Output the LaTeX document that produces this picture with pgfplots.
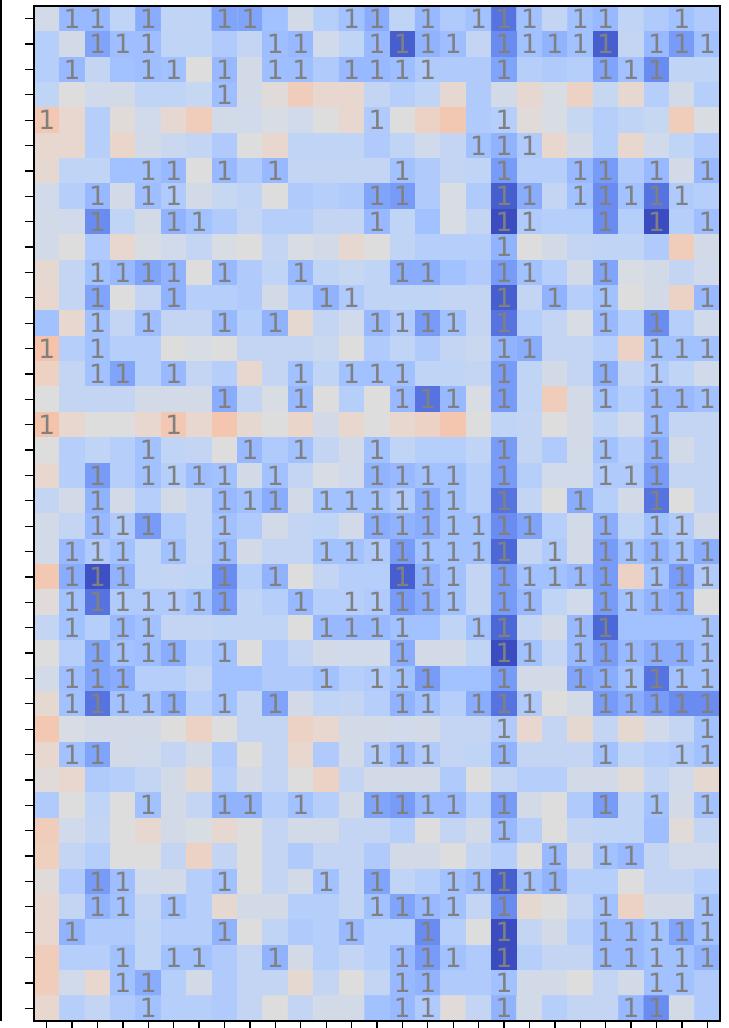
\documentclass[border=0pt]{standalone}
\usepackage{fontspec}
\setmainfont{DejaVu Sans}
\usepackage{pgfplots}
\usepackage{pgfplotstable}
\pgfplotsset{compat=1.18}

% x = column, y = row (0 at top), c = colour value, a = annotation flag
\pgfplotstableread[row sep=\\]{
x y c a\\
0 0 0.46 0\\ 1 0 0.28 1\\ 2 0 0.28 1\\ 3 0 0.40 0\\ 4 0 0.24 1\\ 5 0 0.40 0\\ 6 0 0.40 0\\ 7 0 0.215 1\\ 8 0 0.215 1\\ 9 0 0.31 0\\ 10 0 0.46 0\\ 11 0 0.37 0\\ 12 0 0.31 1\\ 13 0 0.24 1\\ 14 0 0.40 0\\ 15 0 0.28 1\\ 16 0 0.35 0\\ 17 0 0.31 1\\ 18 0 0.09 1\\ 19 0 0.31 1\\ 20 0 0.41 0\\ 21 0 0.31 1\\ 22 0 0.28 1\\ 23 0 0.40 0\\ 24 0 0.35 0\\ 25 0 0.31 1\\ 26 0 0.35 0\\
0 1 0.37 0\\ 1 1 0.46 0\\ 2 1 0.215 1\\ 3 1 0.30 1\\ 4 1 0.30 1\\ 5 1 0.40 0\\ 6 1 0.40 0\\ 7 1 0.35 0\\ 8 1 0.41 0\\ 9 1 0.30 1\\ 10 1 0.28 1\\ 11 1 0.45 0\\ 12 1 0.40 0\\ 13 1 0.28 1\\ 14 1 0.04 1\\ 15 1 0.26 1\\ 16 1 0.30 1\\ 17 1 0.41 0\\ 18 1 0.15 1\\ 19 1 0.31 1\\ 20 1 0.26 1\\ 21 1 0.31 1\\ 22 1 0.04 1\\ 23 1 0.41 0\\ 24 1 0.28 1\\ 25 1 0.19 1\\ 26 1 0.31 1\\
0 2 0.37 0\\ 1 2 0.28 1\\ 2 2 0.41 0\\ 3 2 0.31 0\\ 4 2 0.30 1\\ 5 2 0.31 1\\ 6 2 0.50 0\\ 7 2 0.28 1\\ 8 2 0.46 0\\ 9 2 0.30 1\\ 10 2 0.30 1\\ 11 2 0.35 0\\ 12 2 0.28 1\\ 13 2 0.28 1\\ 14 2 0.30 1\\ 15 2 0.35 1\\ 16 2 0.35 0\\ 17 2 0.35 0\\ 18 2 0.215 1\\ 19 2 0.37 0\\ 20 2 0.35 0\\ 21 2 0.37 0\\ 22 2 0.215 1\\ 23 2 0.31 1\\ 24 2 0.15 1\\ 25 2 0.40 0\\ 26 2 0.40 0\\
0 3 0.40 0\\ 1 3 0.50 0\\ 2 3 0.45 0\\ 3 3 0.46 0\\ 4 3 0.40 0\\ 5 3 0.40 0\\ 6 3 0.42 0\\ 7 3 0.30 1\\ 8 3 0.46 0\\ 9 3 0.51 0\\ 10 3 0.59 0\\ 11 3 0.54 0\\ 12 3 0.54 0\\ 13 3 0.41 0\\ 14 3 0.37 0\\ 15 3 0.40 0\\ 16 3 0.535 0\\ 17 3 0.35 0\\ 18 3 0.46 0\\ 19 3 0.535 0\\ 20 3 0.48 0\\ 21 3 0.565 0\\ 22 3 0.42 0\\ 23 3 0.535 0\\ 24 3 0.37 0\\ 25 3 0.46 0\\ 26 3 0.37 0\\
0 4 0.61 1\\ 1 4 0.54 0\\ 2 4 0.37 0\\ 3 4 0.51 0\\ 4 4 0.45 0\\ 5 4 0.535 0\\ 6 4 0.59 0\\ 7 4 0.46 0\\ 8 4 0.45 0\\ 9 4 0.48 0\\ 10 4 0.45 0\\ 11 4 0.50 0\\ 12 4 0.54 0\\ 13 4 0.35 1\\ 14 4 0.50 0\\ 15 4 0.565 0\\ 16 4 0.61 0\\ 17 4 0.35 0\\ 18 4 0.37 1\\ 19 4 0.51 0\\ 20 4 0.48 0\\ 21 4 0.42 0\\ 22 4 0.37 0\\ 23 4 0.40 0\\ 24 4 0.42 0\\ 25 4 0.59 0\\ 26 4 0.48 0\\
0 5 0.54 0\\ 1 5 0.54 0\\ 2 5 0.37 0\\ 3 5 0.55 0\\ 4 5 0.46 0\\ 5 5 0.43 0\\ 6 5 0.41 0\\ 7 5 0.35 0\\ 8 5 0.50 0\\ 9 5 0.54 0\\ 10 5 0.40 0\\ 11 5 0.40 0\\ 12 5 0.40 0\\ 13 5 0.35 0\\ 14 5 0.40 0\\ 15 5 0.45 0\\ 16 5 0.41 0\\ 17 5 0.31 1\\ 18 5 0.26 1\\ 19 5 0.35 1\\ 20 5 0.54 0\\ 21 5 0.46 0\\ 22 5 0.37 0\\ 23 5 0.54 0\\ 24 5 0.45 0\\ 25 5 0.40 0\\ 26 5 0.35 0\\
0 6 0.53 0\\ 1 6 0.40 0\\ 2 6 0.40 0\\ 3 6 0.31 0\\ 4 6 0.31 1\\ 5 6 0.28 1\\ 6 6 0.50 0\\ 7 6 0.28 1\\ 8 6 0.35 0\\ 9 6 0.28 1\\ 10 6 0.41 0\\ 11 6 0.41 0\\ 12 6 0.41 0\\ 13 6 0.41 0\\ 14 6 0.31 1\\ 15 6 0.35 0\\ 16 6 0.41 0\\ 17 6 0.40 0\\ 18 6 0.19 1\\ 19 6 0.37 0\\ 20 6 0.37 0\\ 21 6 0.28 1\\ 22 6 0.19 1\\ 23 6 0.35 0\\ 24 6 0.28 1\\ 25 6 0.46 0\\ 26 6 0.28 1\\
0 7 0.45 0\\ 1 7 0.37 0\\ 2 7 0.28 1\\ 3 7 0.46 0\\ 4 7 0.30 1\\ 5 7 0.35 1\\ 6 7 0.46 0\\ 7 7 0.42 0\\ 8 7 0.40 0\\ 9 7 0.50 0\\ 10 7 0.35 0\\ 11 7 0.37 0\\ 12 7 0.35 0\\ 13 7 0.215 1\\ 14 7 0.19 1\\ 15 7 0.35 0\\ 16 7 0.48 0\\ 17 7 0.35 0\\ 18 7 0.04 1\\ 19 7 0.24 1\\ 20 7 0.41 0\\ 21 7 0.31 1\\ 22 7 0.15 1\\ 23 7 0.31 1\\ 24 7 0.09 1\\ 25 7 0.35 1\\ 26 7 0.37 0\\
0 8 0.46 0\\ 1 8 0.45 0\\ 2 8 0.15 1\\ 3 8 0.40 0\\ 4 8 0.46 0\\ 5 8 0.26 1\\ 6 8 0.31 1\\ 7 8 0.35 0\\ 8 8 0.41 0\\ 9 8 0.37 0\\ 10 8 0.37 0\\ 11 8 0.41 0\\ 12 8 0.41 0\\ 13 8 0.28 1\\ 14 8 0.40 0\\ 15 8 0.31 0\\ 16 8 0.48 0\\ 17 8 0.41 0\\ 18 8 0.00 1\\ 19 8 0.35 1\\ 20 8 0.37 0\\ 21 8 0.37 0\\ 22 8 0.15 1\\ 23 8 0.37 0\\ 24 8 0.00 1\\ 25 8 0.37 0\\ 26 8 0.30 1\\
0 9 0.46 0\\ 1 9 0.50 0\\ 2 9 0.35 0\\ 3 9 0.54 0\\ 4 9 0.48 0\\ 5 9 0.45 0\\ 6 9 0.41 0\\ 7 9 0.48 0\\ 8 9 0.50 0\\ 9 9 0.41 0\\ 10 9 0.48 0\\ 11 9 0.46 0\\ 12 9 0.535 0\\ 13 9 0.50 0\\ 14 9 0.40 0\\ 15 9 0.37 0\\ 16 9 0.37 0\\ 17 9 0.37 0\\ 18 9 0.26 1\\ 19 9 0.50 0\\ 20 9 0.46 0\\ 21 9 0.41 0\\ 22 9 0.40 0\\ 23 9 0.40 0\\ 24 9 0.35 0\\ 25 9 0.59 0\\ 26 9 0.46 0\\
0 10 0.53 0\\ 1 10 0.41 0\\ 2 10 0.31 1\\ 3 10 0.28 1\\ 4 10 0.215 1\\ 5 10 0.26 1\\ 6 10 0.50 0\\ 7 10 0.28 1\\ 8 10 0.35 0\\ 9 10 0.40 0\\ 10 10 0.28 1\\ 11 10 0.40 0\\ 12 10 0.42 0\\ 13 10 0.40 0\\ 14 10 0.24 1\\ 15 10 0.24 1\\ 16 10 0.31 0\\ 17 10 0.35 0\\ 18 10 0.19 1\\ 19 10 0.31 1\\ 20 10 0.37 0\\ 21 10 0.46 0\\ 22 10 0.215 1\\ 23 10 0.48 0\\ 24 10 0.46 0\\ 25 10 0.41 0\\ 26 10 0.45 0\\
0 11 0.54 0\\ 1 11 0.41 0\\ 2 11 0.215 1\\ 3 11 0.50 0\\ 4 11 0.41 0\\ 5 11 0.26 1\\ 6 11 0.37 0\\ 7 11 0.37 0\\ 8 11 0.35 0\\ 9 11 0.46 0\\ 10 11 0.37 0\\ 11 11 0.26 1\\ 12 11 0.35 1\\ 13 11 0.40 0\\ 14 11 0.40 0\\ 15 11 0.40 0\\ 16 11 0.41 0\\ 17 11 0.41 0\\ 18 11 0.04 1\\ 19 11 0.41 0\\ 20 11 0.26 1\\ 21 11 0.37 0\\ 22 11 0.31 1\\ 23 11 0.50 0\\ 24 11 0.46 0\\ 25 11 0.565 0\\ 26 11 0.28 1\\
0 12 0.31 0\\ 1 12 0.54 0\\ 2 12 0.31 1\\ 3 12 0.41 0\\ 4 12 0.30 1\\ 5 12 0.41 0\\ 6 12 0.41 0\\ 7 12 0.28 1\\ 8 12 0.37 0\\ 9 12 0.26 1\\ 10 12 0.53 0\\ 11 12 0.41 0\\ 12 12 0.45 0\\ 13 12 0.28 1\\ 14 12 0.35 1\\ 15 12 0.19 1\\ 16 12 0.31 1\\ 17 12 0.41 0\\ 18 12 0.09 1\\ 19 12 0.37 0\\ 20 12 0.41 0\\ 21 12 0.48 0\\ 22 12 0.28 1\\ 23 12 0.37 0\\ 24 12 0.15 1\\ 25 12 0.37 0\\ 26 12 0.45 0\\
0 13 0.63 1\\ 1 13 0.37 0\\ 2 13 0.31 1\\ 3 13 0.37 0\\ 4 13 0.37 0\\ 5 13 0.50 0\\ 6 13 0.48 0\\ 7 13 0.50 0\\ 8 13 0.41 0\\ 9 13 0.41 0\\ 10 13 0.41 0\\ 11 13 0.43 0\\ 12 13 0.50 0\\ 13 13 0.35 0\\ 14 13 0.40 0\\ 15 13 0.35 0\\ 16 13 0.41 0\\ 17 13 0.43 0\\ 18 13 0.26 1\\ 19 13 0.24 1\\ 20 13 0.41 0\\ 21 13 0.41 0\\ 22 13 0.37 0\\ 23 13 0.565 0\\ 24 13 0.31 1\\ 25 13 0.31 1\\ 26 13 0.31 1\\
0 14 0.57 0\\ 1 14 0.41 0\\ 2 14 0.31 1\\ 3 14 0.215 1\\ 4 14 0.37 0\\ 5 14 0.28 1\\ 6 14 0.41 0\\ 7 14 0.37 0\\ 8 14 0.54 0\\ 9 14 0.41 0\\ 10 14 0.31 1\\ 11 14 0.40 0\\ 12 14 0.31 1\\ 13 14 0.31 1\\ 14 14 0.31 1\\ 15 14 0.40 0\\ 16 14 0.40 0\\ 17 14 0.41 0\\ 18 14 0.19 1\\ 19 14 0.40 0\\ 20 14 0.46 0\\ 21 14 0.41 0\\ 22 14 0.24 1\\ 23 14 0.41 0\\ 24 14 0.35 1\\ 25 14 0.40 0\\ 26 14 0.45 0\\
0 15 0.50 0\\ 1 15 0.41 0\\ 2 15 0.41 0\\ 3 15 0.41 0\\ 4 15 0.46 0\\ 5 15 0.46 0\\ 6 15 0.46 0\\ 7 15 0.24 1\\ 8 15 0.41 0\\ 9 15 0.48 0\\ 10 15 0.28 1\\ 11 15 0.50 0\\ 12 15 0.37 0\\ 13 15 0.50 0\\ 14 15 0.28 1\\ 15 15 0.09 1\\ 16 15 0.28 1\\ 17 15 0.48 0\\ 18 15 0.19 1\\ 19 15 0.40 0\\ 20 15 0.59 0\\ 21 15 0.46 0\\ 22 15 0.31 1\\ 23 15 0.37 0\\ 24 15 0.28 1\\ 25 15 0.28 1\\ 26 15 0.31 1\\
0 16 0.63 1\\ 1 16 0.54 0\\ 2 16 0.50 0\\ 3 16 0.50 0\\ 4 16 0.54 0\\ 5 16 0.61 1\\ 6 16 0.54 0\\ 7 16 0.62 0\\ 8 16 0.53 0\\ 9 16 0.50 0\\ 10 16 0.55 0\\ 11 16 0.46 0\\ 12 16 0.54 0\\ 13 16 0.50 0\\ 14 16 0.54 0\\ 15 16 0.565 0\\ 16 16 0.62 0\\ 17 16 0.50 0\\ 18 16 0.40 0\\ 19 16 0.41 0\\ 20 16 0.50 0\\ 21 16 0.46 0\\ 22 16 0.40 0\\ 23 16 0.45 0\\ 24 16 0.28 1\\ 25 16 0.41 0\\ 26 16 0.41 0\\
0 17 0.50 0\\ 1 17 0.37 0\\ 2 17 0.40 0\\ 3 17 0.37 0\\ 4 17 0.31 1\\ 5 17 0.40 0\\ 6 17 0.41 0\\ 7 17 0.50 0\\ 8 17 0.28 1\\ 9 17 0.35 0\\ 10 17 0.31 1\\ 11 17 0.41 0\\ 12 17 0.46 0\\ 13 17 0.31 1\\ 14 17 0.40 0\\ 15 17 0.37 0\\ 16 17 0.37 0\\ 17 17 0.40 0\\ 18 17 0.19 1\\ 19 17 0.41 0\\ 20 17 0.35 0\\ 21 17 0.46 0\\ 22 17 0.31 1\\ 23 17 0.37 0\\ 24 17 0.24 1\\ 25 17 0.46 0\\ 26 17 0.41 0\\
0 18 0.54 0\\ 1 18 0.37 0\\ 2 18 0.19 1\\ 3 18 0.37 0\\ 4 18 0.31 1\\ 5 18 0.37 1\\ 6 18 0.30 1\\ 7 18 0.31 1\\ 8 18 0.46 0\\ 9 18 0.31 1\\ 10 18 0.41 0\\ 11 18 0.48 0\\ 12 18 0.45 0\\ 13 18 0.26 1\\ 14 18 0.28 1\\ 15 18 0.31 1\\ 16 18 0.31 1\\ 17 18 0.37 0\\ 18 18 0.19 1\\ 19 18 0.37 0\\ 20 18 0.45 0\\ 21 18 0.45 0\\ 22 18 0.35 1\\ 23 18 0.35 1\\ 24 18 0.19 1\\ 25 18 0.41 0\\ 26 18 0.41 0\\
0 19 0.41 0\\ 1 19 0.46 0\\ 2 19 0.26 1\\ 3 19 0.46 0\\ 4 19 0.37 0\\ 5 19 0.46 0\\ 6 19 0.41 0\\ 7 19 0.28 1\\ 8 19 0.31 1\\ 9 19 0.24 1\\ 10 19 0.46 0\\ 11 19 0.31 1\\ 12 19 0.31 1\\ 13 19 0.31 1\\ 14 19 0.35 1\\ 15 19 0.24 1\\ 16 19 0.31 1\\ 17 19 0.37 0\\ 18 19 0.09 1\\ 19 19 0.41 0\\ 20 19 0.50 0\\ 21 19 0.24 1\\ 22 19 0.37 0\\ 23 19 0.46 0\\ 24 19 0.09 1\\ 25 19 0.50 0\\ 26 19 0.41 0\\
0 20 0.46 0\\ 1 20 0.41 0\\ 2 20 0.28 1\\ 3 20 0.35 1\\ 4 20 0.19 1\\ 5 20 0.35 0\\ 6 20 0.41 0\\ 7 20 0.31 1\\ 8 20 0.35 0\\ 9 20 0.46 0\\ 10 20 0.41 0\\ 11 20 0.40 0\\ 12 20 0.46 0\\ 13 20 0.24 1\\ 14 20 0.26 1\\ 15 20 0.24 1\\ 16 20 0.31 1\\ 17 20 0.31 1\\ 18 20 0.15 1\\ 19 20 0.215 1\\ 20 20 0.37 0\\ 21 20 0.46 0\\ 22 20 0.24 1\\ 23 20 0.40 0\\ 24 20 0.31 1\\ 25 20 0.35 1\\ 26 20 0.46 0\\
0 21 0.46 0\\ 1 21 0.28 1\\ 2 21 0.35 1\\ 3 21 0.31 1\\ 4 21 0.40 0\\ 5 21 0.31 1\\ 6 21 0.41 0\\ 7 21 0.28 1\\ 8 21 0.46 0\\ 9 21 0.41 0\\ 10 21 0.41 0\\ 11 21 0.31 1\\ 12 21 0.31 1\\ 13 21 0.35 1\\ 14 21 0.19 1\\ 15 21 0.31 1\\ 16 21 0.31 1\\ 17 21 0.31 1\\ 18 21 0.06 1\\ 19 21 0.41 0\\ 20 21 0.35 1\\ 21 21 0.46 0\\ 22 21 0.19 1\\ 23 21 0.31 1\\ 24 21 0.26 1\\ 25 21 0.31 1\\ 26 21 0.24 1\\
0 22 0.61 0\\ 1 22 0.24 1\\ 2 22 0.01 1\\ 3 22 0.26 1\\ 4 22 0.40 0\\ 5 22 0.41 0\\ 6 22 0.40 0\\ 7 22 0.15 1\\ 8 22 0.37 0\\ 9 22 0.26 1\\ 10 22 0.50 0\\ 11 22 0.41 0\\ 12 22 0.37 0\\ 13 22 0.37 0\\ 14 22 0.04 1\\ 15 22 0.26 1\\ 16 22 0.31 1\\ 17 22 0.41 0\\ 18 22 0.19 1\\ 19 22 0.31 1\\ 20 22 0.31 1\\ 21 22 0.28 1\\ 22 22 0.19 1\\ 23 22 0.565 0\\ 24 22 0.31 1\\ 25 22 0.19 1\\ 26 22 0.35 1\\
0 23 0.51 0\\ 1 23 0.31 1\\ 2 23 0.09 1\\ 3 23 0.35 1\\ 4 23 0.35 1\\ 5 23 0.35 1\\ 6 23 0.31 1\\ 7 23 0.19 1\\ 8 23 0.40 0\\ 9 23 0.37 0\\ 10 23 0.28 1\\ 11 23 0.37 0\\ 12 23 0.37 1\\ 13 23 0.35 1\\ 14 23 0.19 1\\ 15 23 0.24 1\\ 16 23 0.31 1\\ 17 23 0.41 0\\ 18 23 0.19 1\\ 19 23 0.28 1\\ 20 23 0.40 0\\ 21 23 0.45 0\\ 22 23 0.19 1\\ 23 23 0.31 1\\ 24 23 0.26 1\\ 25 23 0.24 1\\ 26 23 0.50 0\\
0 24 0.41 0\\ 1 24 0.31 1\\ 2 24 0.37 0\\ 3 24 0.28 1\\ 4 24 0.31 1\\ 5 24 0.41 0\\ 6 24 0.41 0\\ 7 24 0.40 0\\ 8 24 0.40 0\\ 9 24 0.40 0\\ 10 24 0.50 0\\ 11 24 0.28 1\\ 12 24 0.28 1\\ 13 24 0.28 1\\ 14 24 0.31 1\\ 15 24 0.31 0\\ 16 24 0.40 0\\ 17 24 0.31 1\\ 18 24 0.06 1\\ 19 24 0.41 0\\ 20 24 0.46 0\\ 21 24 0.28 1\\ 22 24 0.06 1\\ 23 24 0.31 0\\ 24 24 0.31 0\\ 25 24 0.31 0\\ 26 24 0.31 1\\
0 25 0.50 0\\ 1 25 0.37 0\\ 2 25 0.215 1\\ 3 25 0.31 1\\ 4 25 0.30 1\\ 5 25 0.24 1\\ 6 25 0.37 0\\ 7 25 0.31 1\\ 8 25 0.50 0\\ 9 25 0.35 0\\ 10 25 0.41 0\\ 11 25 0.46 0\\ 12 25 0.45 0\\ 13 25 0.45 0\\ 14 25 0.24 1\\ 15 25 0.46 0\\ 16 25 0.46 0\\ 17 25 0.40 0\\ 18 25 0.00 1\\ 19 25 0.31 1\\ 20 25 0.41 0\\ 21 25 0.28 1\\ 22 25 0.19 1\\ 23 25 0.28 1\\ 24 25 0.24 1\\ 25 25 0.24 1\\ 26 25 0.31 1\\
0 26 0.46 0\\ 1 26 0.30 1\\ 2 26 0.215 1\\ 3 26 0.24 1\\ 4 26 0.37 0\\ 5 26 0.37 0\\ 6 26 0.41 0\\ 7 26 0.31 0\\ 8 26 0.31 0\\ 9 26 0.35 0\\ 10 26 0.35 0\\ 11 26 0.31 1\\ 12 26 0.37 0\\ 13 26 0.35 1\\ 14 26 0.31 1\\ 15 26 0.19 1\\ 16 26 0.31 0\\ 17 26 0.31 0\\ 18 26 0.19 1\\ 19 26 0.46 0\\ 20 26 0.46 0\\ 21 26 0.215 1\\ 22 26 0.24 1\\ 23 26 0.31 1\\ 24 26 0.09 1\\ 25 26 0.31 1\\ 26 26 0.31 1\\
0 27 0.53 0\\ 1 27 0.31 1\\ 2 27 0.09 1\\ 3 27 0.31 1\\ 4 27 0.31 1\\ 5 27 0.24 1\\ 6 27 0.37 0\\ 7 27 0.31 1\\ 8 27 0.41 0\\ 9 27 0.215 1\\ 10 27 0.46 0\\ 11 27 0.40 0\\ 12 27 0.41 0\\ 13 27 0.37 0\\ 14 27 0.26 1\\ 15 27 0.31 1\\ 16 27 0.37 0\\ 17 27 0.24 1\\ 18 27 0.09 1\\ 19 27 0.35 1\\ 20 27 0.50 0\\ 21 27 0.46 0\\ 22 27 0.19 1\\ 23 27 0.24 1\\ 24 27 0.19 1\\ 25 27 0.15 1\\ 26 27 0.15 1\\
0 28 0.61 0\\ 1 28 0.48 0\\ 2 28 0.46 0\\ 3 28 0.46 0\\ 4 28 0.46 0\\ 5 28 0.50 0\\ 6 28 0.565 0\\ 7 28 0.50 0\\ 8 28 0.41 0\\ 9 28 0.41 0\\ 10 28 0.565 0\\ 11 28 0.54 0\\ 12 28 0.46 0\\ 13 28 0.46 0\\ 14 28 0.45 0\\ 15 28 0.46 0\\ 16 28 0.41 0\\ 17 28 0.41 0\\ 18 28 0.35 1\\ 19 28 0.54 0\\ 20 28 0.41 0\\ 21 28 0.53 0\\ 22 28 0.41 0\\ 23 28 0.53 0\\ 24 28 0.45 0\\ 25 28 0.41 0\\ 26 28 0.31 1\\
0 29 0.54 0\\ 1 29 0.31 1\\ 2 29 0.215 1\\ 3 29 0.46 0\\ 4 29 0.45 0\\ 5 29 0.41 0\\ 6 29 0.46 0\\ 7 29 0.35 0\\ 8 29 0.50 0\\ 9 29 0.41 0\\ 10 29 0.54 0\\ 11 29 0.35 0\\ 12 29 0.46 0\\ 13 29 0.35 1\\ 14 29 0.28 1\\ 15 29 0.35 1\\ 16 29 0.41 0\\ 17 29 0.40 0\\ 18 29 0.26 1\\ 19 29 0.41 0\\ 20 29 0.41 0\\ 21 29 0.41 0\\ 22 29 0.31 1\\ 23 29 0.40 0\\ 24 29 0.37 0\\ 25 29 0.35 1\\ 26 29 0.31 1\\
0 30 0.51 0\\ 1 30 0.54 0\\ 2 30 0.35 0\\ 3 30 0.37 0\\ 4 30 0.41 0\\ 5 30 0.46 0\\ 6 30 0.53 0\\ 7 30 0.37 0\\ 8 30 0.46 0\\ 9 30 0.41 0\\ 10 30 0.50 0\\ 11 30 0.565 0\\ 12 30 0.41 0\\ 13 30 0.46 0\\ 14 30 0.46 0\\ 15 30 0.46 0\\ 16 30 0.35 0\\ 17 30 0.50 0\\ 18 30 0.41 0\\ 19 30 0.37 0\\ 20 30 0.37 0\\ 21 30 0.46 0\\ 22 30 0.46 0\\ 23 30 0.51 0\\ 24 30 0.41 0\\ 25 30 0.45 0\\ 26 30 0.53 0\\
0 31 0.35 0\\ 1 31 0.50 0\\ 2 31 0.40 0\\ 3 31 0.50 0\\ 4 31 0.31 1\\ 5 31 0.46 0\\ 6 31 0.41 0\\ 7 31 0.26 1\\ 8 31 0.26 1\\ 9 31 0.37 0\\ 10 31 0.31 1\\ 11 31 0.37 0\\ 12 31 0.46 0\\ 13 31 0.215 1\\ 14 31 0.19 1\\ 15 31 0.28 1\\ 16 31 0.28 1\\ 17 31 0.37 0\\ 18 31 0.19 1\\ 19 31 0.46 0\\ 20 31 0.50 0\\ 21 31 0.35 0\\ 22 31 0.19 1\\ 23 31 0.40 0\\ 24 31 0.31 1\\ 25 31 0.46 0\\ 26 31 0.31 1\\
0 32 0.59 0\\ 1 32 0.45 0\\ 2 32 0.41 0\\ 3 32 0.50 0\\ 4 32 0.535 0\\ 5 32 0.46 0\\ 6 32 0.48 0\\ 7 32 0.535 0\\ 8 32 0.50 0\\ 9 32 0.41 0\\ 10 32 0.46 0\\ 11 32 0.46 0\\ 12 32 0.41 0\\ 13 32 0.41 0\\ 14 32 0.37 0\\ 15 32 0.50 0\\ 16 32 0.41 0\\ 17 32 0.46 0\\ 18 32 0.28 1\\ 19 32 0.37 0\\ 20 32 0.50 0\\ 21 32 0.41 0\\ 22 32 0.40 0\\ 23 32 0.40 0\\ 24 32 0.30 0\\ 25 32 0.51 0\\ 26 32 0.41 0\\
0 33 0.58 0\\ 1 33 0.41 0\\ 2 33 0.37 0\\ 3 33 0.50 0\\ 4 33 0.50 0\\ 5 33 0.41 0\\ 6 33 0.565 0\\ 7 33 0.41 0\\ 8 33 0.50 0\\ 9 33 0.41 0\\ 10 33 0.35 0\\ 11 33 0.41 0\\ 12 33 0.41 0\\ 13 33 0.35 0\\ 14 33 0.46 0\\ 15 33 0.46 0\\ 16 33 0.50 0\\ 17 33 0.41 0\\ 18 33 0.37 0\\ 19 33 0.50 0\\ 20 33 0.28 1\\ 21 33 0.46 0\\ 22 33 0.31 1\\ 23 33 0.28 1\\ 24 33 0.41 0\\ 25 33 0.45 0\\ 26 33 0.45 0\\
0 34 0.51 0\\ 1 34 0.35 0\\ 2 34 0.19 1\\ 3 34 0.30 1\\ 4 34 0.45 0\\ 5 34 0.46 0\\ 6 34 0.37 0\\ 7 34 0.31 1\\ 8 34 0.50 0\\ 9 34 0.41 0\\ 10 34 0.46 0\\ 11 34 0.31 1\\ 12 34 0.41 0\\ 13 34 0.215 1\\ 14 34 0.40 0\\ 15 34 0.37 0\\ 16 34 0.31 1\\ 17 34 0.28 1\\ 18 34 0.04 1\\ 19 34 0.31 1\\ 20 34 0.26 1\\ 21 34 0.37 0\\ 22 34 0.37 0\\ 23 34 0.50 0\\ 24 34 0.41 0\\ 25 34 0.41 0\\ 26 34 0.37 0\\
0 35 0.54 0\\ 1 35 0.41 0\\ 2 35 0.26 1\\ 3 35 0.31 1\\ 4 35 0.41 0\\ 5 35 0.31 1\\ 6 35 0.37 0\\ 7 35 0.53 0\\ 8 35 0.46 0\\ 9 35 0.46 0\\ 10 35 0.37 0\\ 11 35 0.37 0\\ 12 35 0.41 0\\ 13 35 0.31 1\\ 14 35 0.215 1\\ 15 35 0.28 1\\ 16 35 0.31 1\\ 17 35 0.41 0\\ 18 35 0.15 1\\ 19 35 0.53 0\\ 20 35 0.50 0\\ 21 35 0.41 0\\ 22 35 0.31 1\\ 23 35 0.565 0\\ 24 35 0.46 0\\ 25 35 0.46 0\\ 26 35 0.31 1\\
0 36 0.54 0\\ 1 36 0.26 1\\ 2 36 0.35 0\\ 3 36 0.35 0\\ 4 36 0.40 0\\ 5 36 0.37 0\\ 6 36 0.37 0\\ 7 36 0.26 1\\ 8 36 0.50 0\\ 9 36 0.40 0\\ 10 36 0.35 0\\ 11 36 0.37 0\\ 12 36 0.28 1\\ 13 36 0.37 0\\ 14 36 0.37 0\\ 15 36 0.15 1\\ 16 36 0.37 0\\ 17 36 0.50 0\\ 18 36 0.00 1\\ 19 36 0.41 0\\ 20 36 0.46 0\\ 21 36 0.37 0\\ 22 36 0.28 1\\ 23 36 0.28 1\\ 24 36 0.31 1\\ 25 36 0.215 1\\ 26 36 0.31 1\\
0 37 0.59 0\\ 1 37 0.37 0\\ 2 37 0.37 0\\ 3 37 0.31 1\\ 4 37 0.40 0\\ 5 37 0.31 1\\ 6 37 0.31 1\\ 7 37 0.35 0\\ 8 37 0.41 0\\ 9 37 0.26 1\\ 10 37 0.46 0\\ 11 37 0.37 0\\ 12 37 0.41 0\\ 13 37 0.37 0\\ 14 37 0.28 1\\ 15 37 0.19 1\\ 16 37 0.31 1\\ 17 37 0.35 0\\ 18 37 0.00 1\\ 19 37 0.37 0\\ 20 37 0.41 0\\ 21 37 0.41 0\\ 22 37 0.28 1\\ 23 37 0.28 1\\ 24 37 0.31 1\\ 25 37 0.31 1\\ 26 37 0.26 1\\
0 38 0.59 0\\ 1 38 0.45 0\\ 2 38 0.54 0\\ 3 38 0.31 1\\ 4 38 0.24 1\\ 5 38 0.37 0\\ 6 38 0.46 0\\ 7 38 0.35 0\\ 8 38 0.41 0\\ 9 38 0.41 0\\ 10 38 0.53 0\\ 11 38 0.41 0\\ 12 38 0.50 0\\ 13 38 0.41 0\\ 14 38 0.28 1\\ 15 38 0.26 1\\ 16 38 0.35 0\\ 17 38 0.35 0\\ 18 38 0.31 1\\ 19 38 0.46 0\\ 20 38 0.46 0\\ 21 38 0.50 0\\ 22 38 0.41 0\\ 23 38 0.46 0\\ 24 38 0.31 1\\ 25 38 0.31 1\\ 26 38 0.35 0\\
0 39 0.54 0\\ 1 39 0.37 0\\ 2 39 0.41 0\\ 3 39 0.35 0\\ 4 39 0.31 1\\ 5 39 0.37 0\\ 6 39 0.37 0\\ 7 39 0.35 0\\ 8 39 0.41 0\\ 9 39 0.50 0\\ 10 39 0.41 0\\ 11 39 0.46 0\\ 12 39 0.46 0\\ 13 39 0.31 0\\ 14 39 0.28 1\\ 15 39 0.35 1\\ 16 39 0.51 0\\ 17 39 0.41 0\\ 18 39 0.26 1\\ 19 39 0.46 0\\ 20 39 0.37 0\\ 21 39 0.41 0\\ 22 39 0.41 0\\ 23 39 0.28 1\\ 24 39 0.15 1\\ 25 39 0.46 0\\ 26 39 0.35 0\\
}\heat

\begin{document}
\begin{tikzpicture}
\path[use as bounding box] (0,0) rectangle (729bp,1028bp);
\draw[line width=1.6bp] (0.8bp,7bp) -- (0.8bp,1028bp);
\begin{axis}[
  at={(34bp,7bp)}, anchor=south west,
  scale only axis, width=686bp, height=1015bp,
  xmin=-0.5, xmax=26.5, ymin=-0.5, ymax=39.5,
  y dir=reverse, enlargelimits=false, axis on top,
  xtick={0,...,26}, ytick={0,...,39},
  xticklabels={}, yticklabels={},
  xtick pos=left, ytick pos=left, tick align=outside,
  major tick length=9bp,
  tick style={black, line width=1.3bp},
  axis line style={black, line width=1.3bp},
  point meta min=0, point meta max=1,
  colormap={coolwarm}{rgb255=(59,76,192) rgb255=(68,90,204) rgb255=(77,104,215) rgb255=(87,117,225) rgb255=(98,130,234) rgb255=(108,142,241) rgb255=(119,154,247) rgb255=(130,165,251) rgb255=(141,176,254) rgb255=(152,185,255) rgb255=(163,194,255) rgb255=(174,201,253) rgb255=(184,208,249) rgb255=(194,213,244) rgb255=(204,217,238) rgb255=(213,219,230) rgb255=(221,221,221) rgb255=(229,216,209) rgb255=(236,211,197) rgb255=(241,204,185) rgb255=(245,196,173) rgb255=(247,187,160) rgb255=(247,177,148) rgb255=(247,166,135) rgb255=(244,154,123) rgb255=(241,141,111) rgb255=(236,127,99) rgb255=(229,112,88) rgb255=(222,96,77) rgb255=(213,80,66) rgb255=(203,62,56) rgb255=(192,40,47) rgb255=(180,4,38)},
]
\addplot[matrix plot*, mesh/cols=27, point meta=explicit] table[x=x, y=y, meta=c] {\heat};
\addplot[draw=none, mark=none, point meta=explicit symbolic,
  nodes near coords={\ifnum\pgfplotspointmeta=1 1\fi},
  nodes near coords align=center,
  every node near coord/.append style={anchor=center, inner sep=0pt, text=gray,
    font=\fontsize{26.5bp}{30bp}\selectfont}]
  table[x=x, y=y, meta=a] {\heat};
\end{axis}
\end{tikzpicture}
\end{document}
